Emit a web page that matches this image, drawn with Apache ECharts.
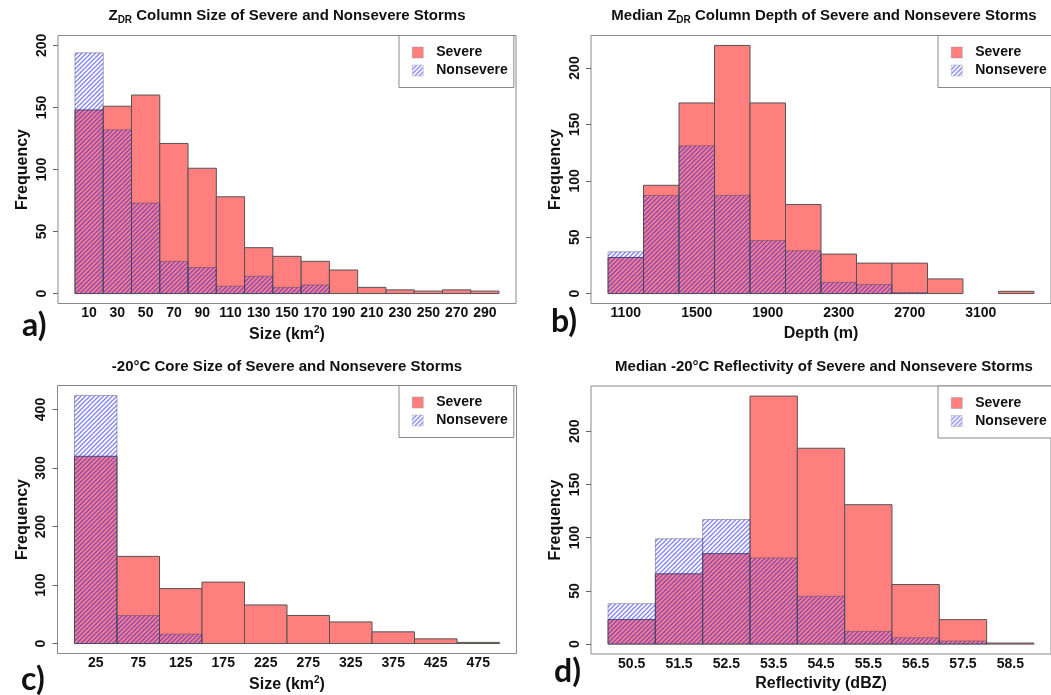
<!DOCTYPE html>
<html lang="en">
<head>
<meta charset="UTF-8">
<title>Severe and Nonsevere Storms</title>
<script src="https://cdn.jsdelivr.net/npm/echarts@6/dist/echarts.min.js"></script>
<style>
html, body { margin: 0; padding: 0; background: #fff; }
#chart { width: 1051px; height: 695px; }
</style>
</head>
<body>
<div id="chart"></div>
<script>
// a) ZDR column size (km2)
var sizeEdges = [0, 20, 40, 60, 80, 100, 120, 140, 160, 180, 200, 220, 240, 260, 280, 300];
var sizeSevere = [148, 151, 160, 121, 101, 78, 37, 30, 26, 19, 5, 3, 2, 3, 2];
var sizeNonsevere = [194, 132, 73, 26, 21, 6, 14, 5, 7, 0, 0, 0, 0, 0, 0];
var sizeTicks = [10, 30, 50, 70, 90, 110, 130, 150, 170, 190, 210, 230, 250, 270, 290];
var sizeYTicks = [0, 50, 100, 150, 200];

// b) median ZDR column depth (m)
var depthEdges = [1000, 1200, 1400, 1600, 1800, 2000, 2200, 2400, 2600, 2800, 3000, 3200, 3400];
var depthSevere = [32, 96, 169, 220, 169, 79, 35, 27, 27, 13, 0, 2];
var depthNonsevere = [37, 87, 131, 87, 47, 38, 10, 8, 1, 0, 0, 0];
var depthTicks = [1100, 1500, 1900, 2300, 2700, 3100];
var depthYTicks = [0, 50, 100, 150, 200];

// c) -20C core size (km2)
var coreEdges = [0, 50, 100, 150, 200, 250, 300, 350, 400, 450, 500];
var coreSevere = [320, 149, 94, 105, 66, 48, 37, 20, 8, 2];
var coreNonsevere = [424, 48, 16, 0, 0, 0, 0, 0, 0, 0];
var coreTicks = [25, 75, 125, 175, 225, 275, 325, 375, 425, 475];
var coreYTicks = [0, 100, 200, 300, 400];

// d) median -20C reflectivity (dBZ)
var reflEdges = [50, 51, 52, 53, 54, 55, 56, 57, 58, 59];
var reflSevere = [23, 66, 85, 233, 184, 131, 56, 23, 1];
var reflNonsevere = [38, 99, 117, 81, 45, 12, 6, 3, 0];
var reflTicks = [50.5, 51.5, 52.5, 53.5, 54.5, 55.5, 56.5, 57.5, 58.5];
var reflYTicks = [0, 50, 100, 150, 200];

var FONT = 'Liberation Sans, Arial, sans-serif';
var RED = '#ff7f7f';

// blue hatching like R's density lines
var pc = document.createElement('canvas');
pc.width = 9; pc.height = 9;
var g = pc.getContext('2d');
g.strokeStyle = 'rgba(30,30,255,0.55)';
g.lineWidth = 1.3;
for (var k = -2; k <= 2; k++) {
    g.beginPath();
    g.moveTo(k * 4.5 - 1, 10);
    g.lineTo(k * 4.5 + 10, -1);
    g.stroke();
}
var HATCH = { image: pc, repeat: 'repeat' };

function bins(edges, counts) {
    var out = [];
    for (var i = 0; i < counts.length; i++) {
        if (counts[i] > 0) out.push([edges[i], counts[i], edges[i + 1]]);
    }
    return out;
}

function histRect(fill, stroke) {
    return function (params, api) {
        var tl = api.coord([api.value(0), api.value(1)]);
        var br = api.coord([api.value(2), 0]);
        return {
            type: 'rect',
            shape: { x: tl[0], y: tl[1], width: br[0] - tl[0], height: br[1] - tl[1] },
            style: { fill: fill, stroke: stroke, lineWidth: 1 }
        };
    };
}

var grids = [
    { left: 58, top: 35.5, width: 458, height: 268 },
    { left: 591, top: 35.5, width: 465.5, height: 268 },
    { left: 57.5, top: 385.5, width: 459, height: 268 },
    { left: 591, top: 386, width: 465.5, height: 268 }
];

var nameStyle = {
    fontFamily: FONT, fontSize: 16, fontWeight: 'bold', color: '#111',
    rich: {
        n: { fontFamily: FONT, fontSize: 16, fontWeight: 'bold', color: '#111', lineHeight: 18 },
        p: { fontFamily: FONT, fontSize: 10, fontWeight: 'bold', color: '#111', lineHeight: 10, verticalAlign: 'top' }
    }
};

function plain(v) { return String(v); }

function xAx(i, min, max, ticks, name, fmt) {
    return {
        type: 'value', gridIndex: i, min: min, max: max,
        axisLine: { show: false, onZero: false }, axisTick: { show: false }, splitLine: { show: false },
        axisLabel: { customValues: ticks, margin: 3, fontFamily: FONT, fontSize: 14, fontWeight: 'bold', color: '#111', formatter: fmt || plain },
        name: name, nameLocation: 'middle', nameGap: 22, nameTextStyle: nameStyle
    };
}

function yAx(i, min, max, ticks) {
    return {
        type: 'value', gridIndex: i, min: min, max: max,
        axisLine: { show: false, onZero: false }, splitLine: { show: false },
        axisTick: { show: true, customValues: ticks, length: 5, lineStyle: { color: '#666' } },
        axisLabel: { customValues: ticks, rotate: 90, margin: 9, fontFamily: FONT, fontSize: 14, fontWeight: 'bold', color: '#111', formatter: plain },
        name: 'Frequency', nameLocation: 'middle', nameGap: 27,
        nameTextStyle: { fontFamily: FONT, fontSize: 16, fontWeight: 'bold', color: '#111' }
    };
}

function legendAt(left, top) {
    return {
        left: left, top: top, orient: 'vertical', icon: 'rect',
        itemWidth: 11, itemHeight: 11, itemGap: 4, padding: [10, 6, 10, 13],
        borderColor: '#888', borderWidth: 1, backgroundColor: '#fff', selectedMode: false,
        textStyle: { fontFamily: FONT, fontSize: 14, fontWeight: 'bold', color: '#111', lineHeight: 14, padding: [0, 0, 0, 8] },
        data: [
            { name: 'Severe', itemStyle: { color: RED, borderColor: '#999', borderWidth: 0.5 } },
            { name: 'Nonsevere', itemStyle: { color: HATCH, borderColor: '#aaa', borderWidth: 0.5 } }
        ]
    };
}

function pair(i, edges, sev, non) {
    return [
        { type: 'custom', name: 'Severe', xAxisIndex: i, yAxisIndex: i, renderItem: histRect(RED, '#555'),
          itemStyle: { color: RED }, encode: { x: [0, 2], y: 1 }, data: bins(edges, sev) },
        { type: 'custom', name: 'Nonsevere', xAxisIndex: i, yAxisIndex: i, renderItem: histRect(HATCH, 'rgba(70,70,90,0.45)'),
          itemStyle: { color: HATCH }, encode: { x: [0, 2], y: 1 }, data: bins(edges, non) }
    ];
}

function title(x, y, text) {
    return {
        type: 'text', x: x, y: y,
        style: {
            text: text, align: 'center', verticalAlign: 'middle',
            rich: {
                t: { fontFamily: FONT, fontSize: 15, fontWeight: 'bold', fill: '#111', lineHeight: 19 },
                s: { fontFamily: FONT, fontSize: 10, fontWeight: 'bold', fill: '#111', lineHeight: 10, verticalAlign: 'bottom' }
            }
        }
    };
}

function tag(x, y, text) {
    return {
        type: 'text', x: x, y: y,
        style: { text: text, fontFamily: 'Lato, sans-serif', fontSize: 32, fontWeight: 'bold', fill: '#111', verticalAlign: 'middle' }
    };
}

var mychart = echarts.init(document.getElementById('chart'));
var option = {
    animation: false,
    grid: grids.map(function (r) {
        return { left: r.left, top: r.top, width: r.width, height: r.height, show: true, borderColor: '#888', borderWidth: 1 };
    }),
    xAxis: [
        xAx(0, -12, 312, sizeTicks, '{n|Size (km}{p|2}{n|)}'),
        xAx(1, 904, 3496, depthTicks, 'Depth (m)'),
        xAx(2, -20, 520, coreTicks, '{n|Size (km}{p|2}{n|)}'),
        xAx(3, 49.64, 59.36, reflTicks, 'Reflectivity (dBZ)', function (v) { return v.toFixed(1); })
    ],
    yAxis: [
        yAx(0, -8, 208, sizeYTicks),
        yAx(1, -8.8, 228.8, depthYTicks),
        yAx(2, -17, 441, coreYTicks),
        yAx(3, -9.3, 242.5, reflYTicks)
    ],
    legend: [legendAt(399, 35.5), legendAt(938, 35.5), legendAt(399, 385.5), legendAt(938, 386)],
    series: [].concat(
        pair(0, sizeEdges, sizeSevere, sizeNonsevere),
        pair(1, depthEdges, depthSevere, depthNonsevere),
        pair(2, coreEdges, coreSevere, coreNonsevere),
        pair(3, reflEdges, reflSevere, reflNonsevere)
    ),
    graphic: [
        title(287, 16, '{t|Z}{s|DR}{t| Column Size of Severe and Nonsevere Storms}'),
        title(824, 16, '{t|Median Z}{s|DR}{t| Column Depth of Severe and Nonsevere Storms}'),
        title(287, 367, '{t|-20°C Core Size of Severe and Nonsevere Storms}'),
        title(824, 367, '{t|Median -20°C Reflectivity of Severe and Nonsevere Storms}'),
        tag(22, 326, 'a)'),
        tag(551, 322, 'b)'),
        tag(21, 680, 'c)'),
        tag(554, 672, 'd)')
    ]
};
mychart.setOption(option);
</script>
</body>
</html>
